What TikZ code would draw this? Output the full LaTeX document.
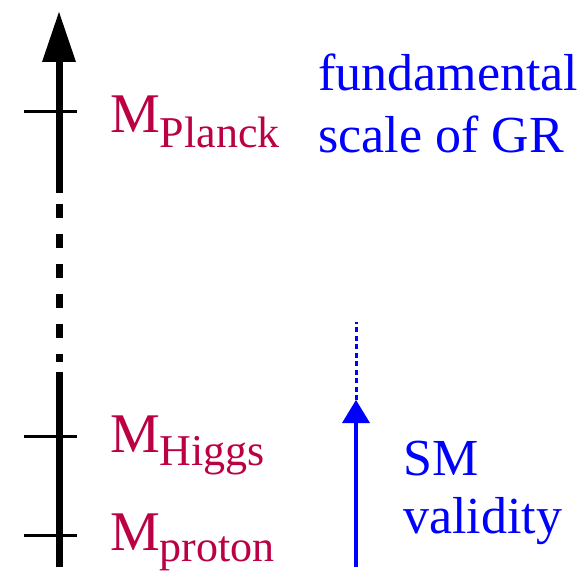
\documentclass[tikz,border=0pt]{standalone}
\usepackage{fontspec}
\setmainfont{Liberation Serif}
\definecolor{mred}{RGB}{187,0,68}
\definecolor{mblue}{RGB}{0,0,255}
\newcommand\Msub[2]{M\raisebox{-#2pt}{\fontsize{44}{44}\selectfont #1}}
\tikzset{
  axisline/.style={line width=7pt, black},
  tickline/.style={line width=3pt, black},
  mlabel/.style={anchor=base west, inner sep=0pt, text=mred, font=\fontsize{56}{60}\selectfont},
  bluetext/.style={anchor=base west, inner sep=0pt, text=mblue, align=left},
  smline/.style={line width=4pt, mblue},
}
\begin{document}
\begin{tikzpicture}[x=1pt,y=-1pt]
\useasboundingbox (0,0) rectangle (586,572);
% black axis
\coordinate (abot) at (59,567);
\coordinate (adash1) at (59,362);
\coordinate (adash0) at (59,204);
\coordinate (asol) at (59,193);
\coordinate (abase) at (59,62);
\coordinate (atip) at (59,12);
\draw[axisline] (abot) -- (59,372);
\draw[axisline, dash pattern=on 14pt off 16pt] (adash0) -- (adash1);
\draw[axisline] (asol) -- (abase);
\fill (42,62) -- (atip) -- (76,62) -- cycle;
% ticks
\draw[tickline] (24,112) -- (77,112);
\draw[tickline] (24,436) -- (77,436);
\draw[tickline] (24,535) -- (77,535);
% labels
\node[mlabel] (planck) at (110,133) {\Msub{Planck}{15}};
\node[mlabel] (higgs) at (110,452) {\Msub{Higgs}{13}};
\node[mlabel] (proton) at (110,550) {\Msub{proton}{11}};
% blue arrow
\coordinate (bbot) at (356,567);
\coordinate (bbase) at (356,422);
\coordinate (btip) at (356,400);
\coordinate (btop) at (356,322);
\draw[smline] (bbot) -- (bbase);
\fill[mblue] (342,423) -- (btip) -- (370,423) -- cycle;
\draw[mblue, line width=3pt, dash pattern=on 5pt off 3.5pt] (btip) -- (btop);
% blue texts
\node[bluetext, font=\fontsize{52}{62}\selectfont] (gr) at (318,153) {fundamental\\scale of GR};
\node[bluetext, font=\fontsize{52}{58}\selectfont] (sm) at (403,533) {SM\\validity};
\end{tikzpicture}
\end{document}
